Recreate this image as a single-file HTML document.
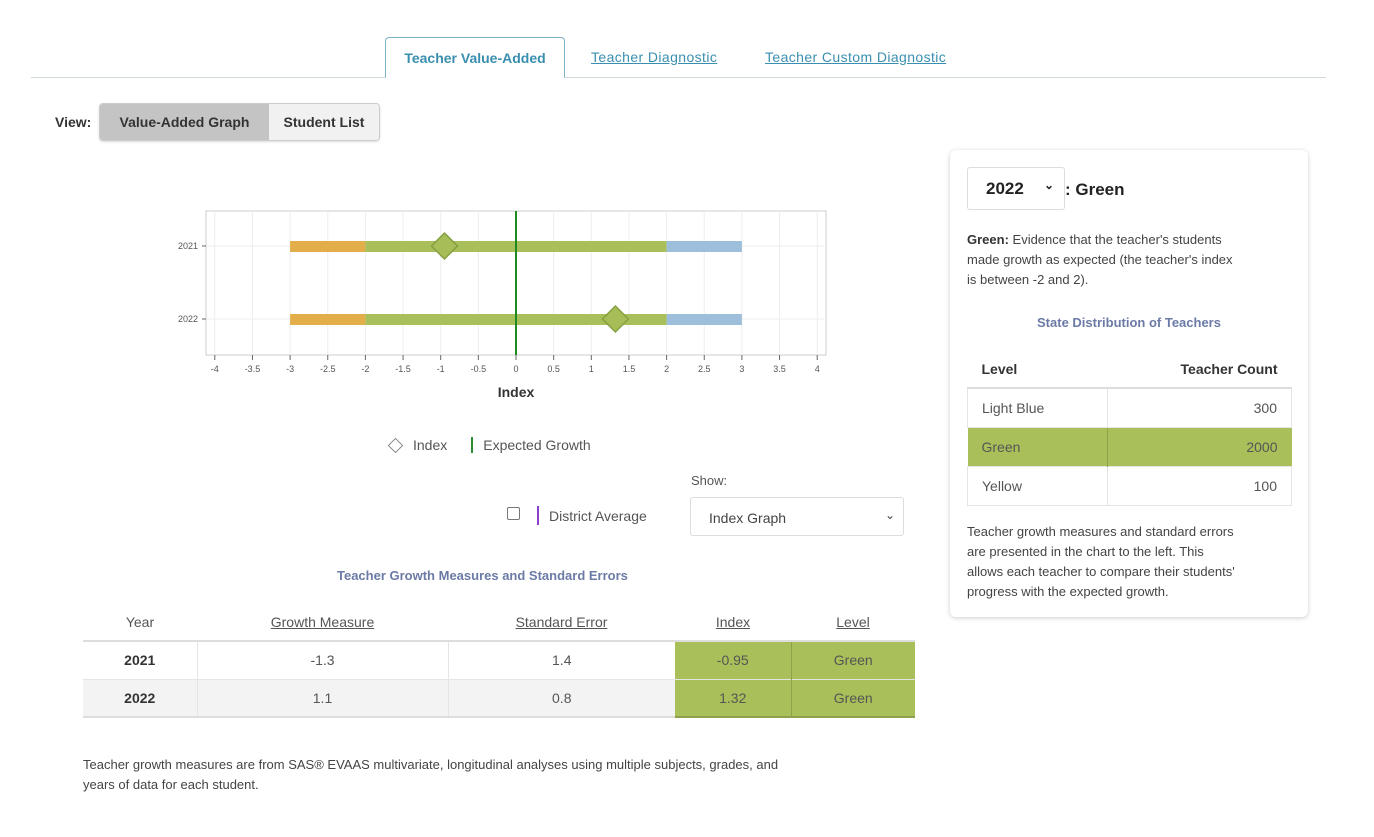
<!DOCTYPE html>
<html><head><meta charset="utf-8">
<style>
*{box-sizing:border-box}
body{margin:0;width:1374px;height:837px;background:#fff;font-family:"Liberation Sans",sans-serif;color:#333;position:relative;overflow:hidden}
.a{position:absolute}
.tab{font-size:14px;color:#3a8fb0;text-decoration:underline}
table{border-collapse:collapse}
</style></head><body>
<div class="a" style="left:31px;top:77px;width:1295px;height:1px;background:#cfd8dc"></div>
<div class="a" style="left:385px;top:37px;width:180px;height:41px;border:1px solid #7fb2c6;border-bottom:1px solid #fff;border-radius:4px 4px 0 0;background:#fff;font-size:14px;font-weight:bold;color:#3a8fb0;text-align:center;line-height:40px">Teacher Value-Added</div>
<div class="a tab" style="left:591px;top:49px;letter-spacing:0.4px">Teacher Diagnostic</div>
<div class="a tab" style="left:765px;top:49px;letter-spacing:0.4px">Teacher Custom Diagnostic</div>

<div class="a" style="left:55px;top:114px;font-size:14px;font-weight:bold">View:</div>
<div class="a" style="left:99px;top:103px;width:281px;height:38px;border:1px solid #ccc;border-radius:4px;overflow:hidden;display:flex;font-size:14px;font-weight:bold;box-shadow:0 1px 2px rgba(0,0,0,.15)">
<div style="width:169px;background:#c4c4c4;text-align:center;line-height:36px">Value-Added Graph</div>
<div style="flex:1;background:#f1f1f1;text-align:center;line-height:36px">Student List</div>
</div>

<svg class="a" id="chart" style="left:0;top:0" width="940" height="420"></svg>

<div class="a" style="left:390px;top:437px;font-size:14px;color:#555;display:flex;align-items:center">
<span style="display:inline-block;width:11px;height:11px;border:1.5px solid #888;transform:rotate(45deg);margin-right:12px"></span><span>Index</span>
<span style="display:inline-block;width:2px;height:16px;background:#2e8b2e;margin:0 10px 0 24px"></span><span>Expected Growth</span></div>

<div class="a" style="left:691px;top:473px;font-size:13px;color:#555">Show:</div>
<div class="a" style="left:507px;top:507px;width:13px;height:13px;border:1px solid #777;border-radius:2px"></div>
<div class="a" style="left:537px;top:506px;width:2px;height:19px;background:#8a3fd1"></div>
<div class="a" style="left:549px;top:508px;font-size:14px;color:#555">District Average</div>
<div class="a" style="left:690px;top:497px;width:214px;height:39px;border:1px solid #ddd;border-radius:3px;font-size:14px;color:#444;padding:12px 0 0 18px">Index Graph<span style="position:absolute;right:8px;top:10px;font-size:12px">&#8964;</span></div>

<div class="a" style="left:337px;top:568px;font-size:13px;font-weight:bold;color:#6b7ba6">Teacher Growth Measures and Standard Errors</div>
<table class="a" style="left:83px;top:604px;width:832px;font-size:14px;color:#555">
<tr style="height:37px;border-bottom:2px solid #ddd">
<th style="width:114px;font-weight:normal">Year</th>
<th style="width:251px;font-weight:normal"><u>Growth Measure</u></th>
<th style="width:227px;font-weight:normal"><u>Standard Error</u></th>
<th style="width:116px;font-weight:normal"><u>Index</u></th>
<th style="font-weight:normal"><u>Level</u></th></tr>
<tr style="height:38px;text-align:center;border-bottom:1px solid #e5e5e5">
<td style="font-weight:bold;color:#333;border-right:1px solid #e5e5e5">2021</td><td style="border-right:1px solid #e5e5e5">-1.3</td><td>1.4</td><td style="background:#a9c05a;border-right:1px solid #8da04a">-0.95</td><td style="background:#a9c05a">Green</td></tr>
<tr style="height:38px;text-align:center;background:#f3f3f3;border-bottom:2px solid #ddd">
<td style="font-weight:bold;color:#333;border-right:1px solid #e5e5e5">2022</td><td style="border-right:1px solid #e5e5e5">1.1</td><td>0.8</td><td style="background:#a9c05a;border-right:1px solid #8da04a;border-bottom:2px solid #8da04a">1.32</td><td style="background:#a9c05a;border-bottom:2px solid #8da04a">Green</td></tr>
</table>
<div class="a" style="left:83px;top:755px;width:830px;font-size:13px;line-height:20px;color:#444">Teacher growth measures are from SAS® EVAAS multivariate, longitudinal analyses using multiple subjects, grades, and<br>years of data for each student.</div>

<div class="a" style="left:950px;top:150px;width:358px;height:467px;border-radius:6px;box-shadow:0 1px 5px rgba(0,0,0,.2);background:#fff">
<div class="a" style="left:17px;top:17px;width:98px;height:43px;border:1px solid #ddd;border-radius:3px;font-size:17px;font-weight:bold;padding:11px 0 0 18px;color:#222">2022<span style="position:absolute;right:10px;top:10px;font-size:12px">&#8964;</span></div>
<div class="a" style="left:115px;top:30px;font-size:17px;font-weight:bold;color:#222">: Green</div>
<div class="a" style="left:17px;top:80px;width:330px;font-size:13px;line-height:20px;color:#444"><b style="color:#333">Green:</b> Evidence that the teacher's students<br>made growth as expected (the teacher's index<br>is between -2 and 2).</div>
<div class="a" style="left:0;width:358px;top:165px;text-align:center;font-size:13px;font-weight:bold;color:#6b7ba6">State Distribution of Teachers</div>
<table class="a" style="left:17px;top:200px;width:325px;font-size:14px;color:#555">
<tr style="height:38px;border-bottom:2px solid #ddd"><th style="text-align:left;padding-left:14px;color:#333">Level</th><th style="text-align:right;padding-right:14px;color:#333">Teacher Count</th></tr>
<tr style="height:39px;border:1px solid #e5e5e5"><td style="padding-left:14px;border-right:1px solid #e5e5e5;width:140px">Light Blue</td><td style="text-align:right;padding-right:14px">300</td></tr>
<tr style="height:39px;background:#a9c05a"><td style="padding-left:14px;border-right:1px solid #8da04a">Green</td><td style="text-align:right;padding-right:14px">2000</td></tr>
<tr style="height:39px;border:1px solid #e5e5e5"><td style="padding-left:14px;border-right:1px solid #e5e5e5">Yellow</td><td style="text-align:right;padding-right:14px">100</td></tr>
</table>
<div class="a" style="left:17px;top:372px;width:335px;font-size:13px;line-height:20px;color:#444">Teacher growth measures and standard errors<br>are presented in the chart to the left. This<br>allows each teacher to compare their students'<br>progress with the expected growth.</div>
</div>

<script>
const years=['2021','2022'];
const indexValues=[-0.95,1.32];
const bandStarts=[-3,-2,2];
const bandEnds=[-2,2,3];
const bandColors=['#e3ae4a','#a9c05a','#9dbfdc'];
const xTicks=[-4,-3.5,-3,-2.5,-2,-1.5,-1,-0.5,0,0.5,1,1.5,2,2.5,3,3.5,4];
const expectedGrowth=0;
const NS='http://www.w3.org/2000/svg';
const svg=document.getElementById('chart');
const X0=206,X1=826,Y0=211,Y1=355;
const x=v=>516+v*75.3;
const y=i=>246+i*73;
function mk(t,a,p){const e=document.createElementNS(NS,t);for(const k in a)e.setAttribute(k,a[k]);(p||svg).appendChild(e);return e;}
let box=mk('rect',{x:X0,y:Y0,width:X1-X0,height:Y1-Y0,fill:'#fff',stroke:'#ccc'});


xTicks.forEach(t=>{
 let g=mk('line',{x1:x(t),x2:x(t),y1:Y0,y2:Y1,stroke:'#eee'});
 
 
 mk('line',{x1:x(t),x2:x(t),y1:Y1,y2:Y1+5,stroke:'#666'});
 let l=mk('text',{x:x(t),y:Y1+17,'font-size':9,'text-anchor':'middle',fill:'#555'});l.textContent=t;
 
 
});
years.forEach((yr,i)=>{
 mk('line',{x1:X0,x2:X1,y1:y(i),y2:y(i),stroke:'#eee'});
 mk('line',{x1:X0-4,x2:X0,y1:y(i),y2:y(i),stroke:'#666'});
 let l=mk('text',{x:X0-8,y:y(i)+3,'font-size':9,'text-anchor':'end',fill:'#555'});l.textContent=yr;
 
 
 bandStarts.forEach((s,j)=>{
  let r=mk('rect',{x:x(s),y:y(i)-5,width:x(bandEnds[j])-x(s),height:11,fill:bandColors[j]});
  
  
 });
});
let eg=mk('line',{x1:x(expectedGrowth),x2:x(expectedGrowth),y1:Y0,y2:Y1,stroke:'#1f8a1f','stroke-width':2});


indexValues.forEach((v,i)=>{
 const cx=x(v),cy=y(i);
 let d=mk('polygon',{points:`${cx},${cy-13} ${cx+13},${cy} ${cx},${cy+13} ${cx-13},${cy}`,fill:'#a6bd58',stroke:'#86a040','stroke-width':1.5});
 
 
});
let xt=mk('text',{x:516,y:397,'font-size':14,'font-weight':'bold','text-anchor':'middle',fill:'#333'});xt.textContent='Index';


</script>
</body></html>
